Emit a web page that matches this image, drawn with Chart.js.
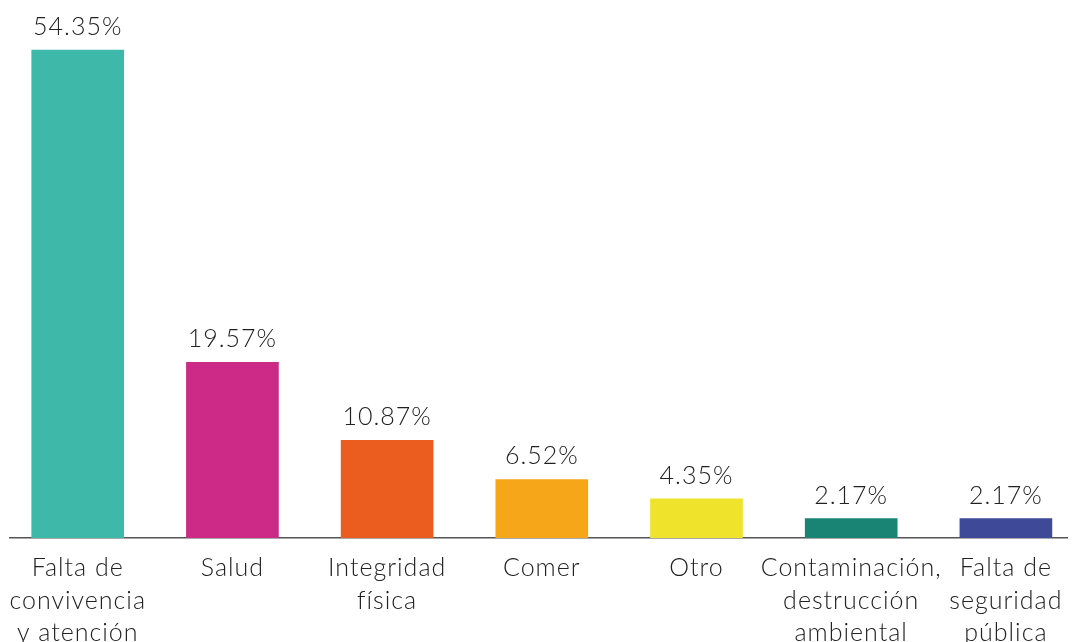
<!DOCTYPE html>
<html lang="es">
<head>
<meta charset="utf-8">
<title>Motivos</title>
<script src="https://cdn.jsdelivr.net/npm/chart.js@4/dist/chart.umd.min.js"></script>
<style>
  html, body { margin: 0; padding: 0; background: #fff; overflow: hidden; }
  #wrap { position: relative; width: 1072px; height: 642px; }
</style>
</head>
<body>
<div id="wrap"><canvas id="motivos"></canvas></div>
<script>
const categories = [
  ['Falta de', 'convivencia', 'y atención'],
  ['Salud'],
  ['Integridad', 'física'],
  ['Comer'],
  ['Otro'],
  ['Contaminación,', 'destrucción', 'ambiental'],
  ['Falta de', 'seguridad', 'pública'],
];
const percentages = [54.35, 19.57, 10.87, 6.52, 4.35, 2.17, 2.17];
const barColors = ['#3eb8a9', '#cc2a86', '#ea5d1f', '#f6a619', '#efe42b', '#198474', '#3e4a98'];

const FONT = "'Lato', 'Open Sans', sans-serif";
const TEXT = '#222222';

// a little tracking for all canvas text
const spacing = {
  id: 'spacing',
  beforeDraw(chart) {
    chart.ctx.letterSpacing = '1px';
  },
};

// percentage printed above each bar
const valueLabels = {
  id: 'valueLabels',
  afterDatasetsDraw(chart) {
    const { ctx } = chart;
    const meta = chart.getDatasetMeta(0);
    ctx.save();
    ctx.font = `300 25px ${FONT}`;
    ctx.fillStyle = TEXT;
    ctx.textAlign = 'center';
    ctx.textBaseline = 'alphabetic';
    meta.data.forEach((bar, i) => {
      ctx.fillText(percentages[i].toFixed(2) + '%', bar.x, bar.y - 15);
    });
    ctx.restore();
  },
};

new Chart(document.getElementById('motivos'), {
  type: 'bar',
  data: {
    datasets: [{
      data: percentages.map((v, i) => ({ x: i, y: v })),
      backgroundColor: barColors,
      borderWidth: 0,
      barThickness: 92,
    }],
  },
  options: {
    responsive: true,
    maintainAspectRatio: false,
    animation: false,
    layout: { padding: { left: 10, right: 0, top: 0, bottom: 0 } },
    plugins: {
      legend: { display: false },
      tooltip: { enabled: false },
    },
    scales: {
      x: {
        type: 'linear',
        offset: false,
        min: -0.4378,
        max: 6.399,
        grid: { display: false, drawTicks: false, offset: false },
        border: { display: true, color: '#555555', width: 1.5 },
        afterBuildTicks(scale) {
          scale.ticks = categories.map((_, i) => ({ value: i }));
        },
        afterFit(scale) {
          scale.height = 104;
        },
        ticks: {
          autoSkip: false,
          maxRotation: 0,
          padding: 14,
          color: TEXT,
          font: { family: FONT, size: 25, weight: 300, lineHeight: 1.3 },
          callback: (value) => categories[value],
        },
      },
      y: {
        display: false,
        min: 0,
        max: 59.92,
      },
    },
  },
  plugins: [spacing, valueLabels],
});
</script>
</body>
</html>
